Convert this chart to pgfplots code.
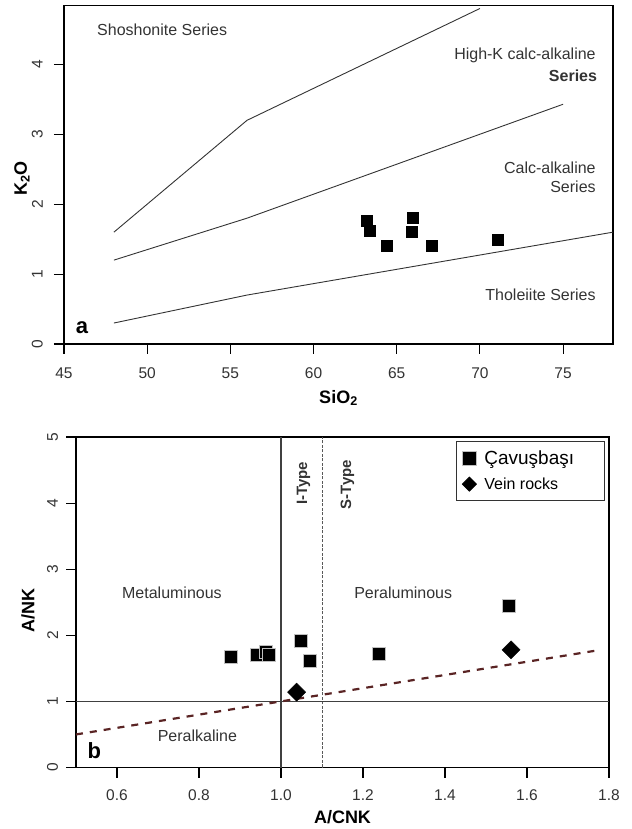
\documentclass[border=0pt]{standalone}
\usepackage{fontspec}
\setmainfont{Liberation Sans}
\usepackage{pgfplots}
\pgfplotsset{compat=1.18}
\definecolor{txt}{HTML}{333333}
\definecolor{bline}{HTML}{333333}
\definecolor{dashred}{HTML}{5A2424}

\newcommand{\fs}[1]{\fontsize{#1bp}{#1bp}\selectfont}

\pgfplotsset{
  rbox/.style={
    scale only axis, anchor=south west,
    axis line style={black, line width=1.1bp},
    tick align=outside, xtick pos=left, ytick pos=left,
    major tick length=10bp,
    tick style={black, line width=1.1bp},
    /pgf/number format/assume math mode=true,
    tick label style={font=\fs{15.5}, text=txt, inner sep=0pt},
    label style={font=\bfseries\fs{18}, anchor=center},
  },
  legsq/.style={legend image code/.code={\draw[##1, mark size=7bp] plot coordinates {(0.3cm,0cm)};}},
  legdm/.style={legend image code/.code={\draw[##1, mark size=4.95bp] plot coordinates {(0.3cm,0cm)};}},
}
\tikzset{lbl/.style={font=\fs{16}, text=txt, inner sep=0pt}}

\begin{document}
\begin{tikzpicture}
\useasboundingbox (0,0) rectangle (632bp,829bp);

% ---- a: K2O vs SiO2
\begin{axis}[rbox, at={(64bp,485bp)}, width=549bp, height=338.3bp,
  xmin=45, xmax=78, ymin=0, ymax=4.84,
  xtick={45,50,...,75}, ytick={0,1,2,3,4},
  xticklabel style={anchor=center, yshift=-19bp},
  yticklabel style={rotate=90, anchor=center, yshift=16.6bp},
  xlabel={SiO\textsubscript{2}}, ylabel={K\textsubscript{2}O},
  xlabel style={at={(axis description cs:0.5,-0.1596)}},
  ylabel style={at={(axis description cs:-0.0765,0.489)}},
]
\addplot[bline, line width=0.9bp] coordinates {(48,1.6) (56,3.2) (70,4.8)};
\addplot[bline, line width=0.9bp] coordinates {(48,1.2) (56,1.8) (75,3.43)};
\addplot[bline, line width=0.9bp] coordinates {(48,0.3) (56,0.7) (78,1.6)};
\addplot[only marks, mark=square*, mark size=5.5bp, black] coordinates {
  (63.21,1.76) (63.39,1.62) (64.4,1.41) (65.96,1.80) (65.9,1.61) (67.1,1.41) (71.06,1.49)};
\node[lbl, anchor=center] at (axis cs:50.9,4.495) {Shoshonite Series};
\node[lbl, anchor=east] at (axis cs:76.97,4.129) {High-K calc-alkaline};
\node[lbl, anchor=east, font=\bfseries\fs{16}] at (axis cs:77.05,3.843) {Series};
\node[lbl, anchor=east] at (axis cs:76.97,2.519) {Calc-alkaline};
\node[lbl, anchor=east] at (axis cs:76.97,2.248) {Series};
\node[lbl, anchor=east] at (axis cs:76.97,0.70) {Tholeiite Series};
\node[font=\bfseries\fs{22}, inner sep=0pt] at (axis cs:46.08,0.24) {a};
\end{axis}

% ---- b: A/NK vs A/CNK
\begin{axis}[rbox, at={(76bp,61.5bp)}, width=533bp, height=330.5bp,
  xmin=0.5, xmax=1.8, ymin=0, ymax=5,
  xtick={0.6,0.8,...,1.8}, ytick={0,1,2,3,4,5},
  xticklabel style={anchor=center, yshift=-17.5bp,
    /pgf/number format/.cd, fixed, fixed zerofill, precision=1},
  yticklabel style={rotate=90, anchor=center, yshift=13.4bp},
  xlabel={A/CNK}, ylabel={A/NK},
  xlabel style={at={(axis description cs:0.5,-0.1498)}},
  ylabel style={at={(axis description cs:-0.090,0.476)}},
  legend style={at={(axis cs:1.4268,4.94)}, anchor=north west,
    draw=black!80, line width=0.8bp, font=\fs{16}, inner xsep=6bp, inner ysep=9bp,
    nodes={inner sep=0pt}, row sep=11.5bp, column sep=8bp, cells={anchor=west}},
]
\addplot[black!75, line width=1.1bp, forget plot] coordinates {(1.0,0) (1.0,5)};
\addplot[black!65, line width=1.0bp, dash pattern=on 3bp off 1.5bp, forget plot] coordinates {(1.1,0) (1.1,5)};
\addplot[black!75, line width=1.1bp, forget plot] coordinates {(0.5,1) (1.8,1)};
\addplot[dashred, line width=2.2bp, dash pattern=on 7bp off 7bp, forget plot] coordinates {(0.5,0.5) (1.775,1.775)};
\addplot[only marks, mark=square*, mark size=6.5bp,
  mark options={fill=black, draw=black!25, line width=0.5bp}, legsq]
  coordinates {(0.877,1.68) (0.941,1.70) (0.963,1.75) (0.970,1.70)
  (1.048,1.92) (1.069,1.61) (1.239,1.72) (1.555,2.45)};
\addlegendentry{\fs{19}\makebox[114bp][l]{Çavuşbaşı}}
\addplot[only marks, mark=square*, mark size=6.4bp,
  mark options={fill=black, draw=black, rotate=45}, legdm]
  coordinates {(1.038,1.14) (1.561,1.78)};
\addlegendentry{Vein rocks}
\node[lbl, anchor=center] at (axis cs:0.734,2.64) {Metaluminous};
\node[lbl, anchor=center] at (axis cs:1.298,2.64) {Peraluminous};
\node[lbl, anchor=center] at (axis cs:0.796,0.48) {Peralkaline};
\node[font=\bfseries\fs{15}, text=txt, inner sep=0pt, rotate=90] at (axis cs:1.055,4.30) {I-Type};
\node[font=\bfseries\fs{15}, text=txt, inner sep=0pt, rotate=90] at (axis cs:1.162,4.28) {S-Type};
\node[font=\bfseries\fs{22}, inner sep=0pt] at (axis cs:0.545,0.26) {b};
\end{axis}
\end{tikzpicture}
\end{document}
